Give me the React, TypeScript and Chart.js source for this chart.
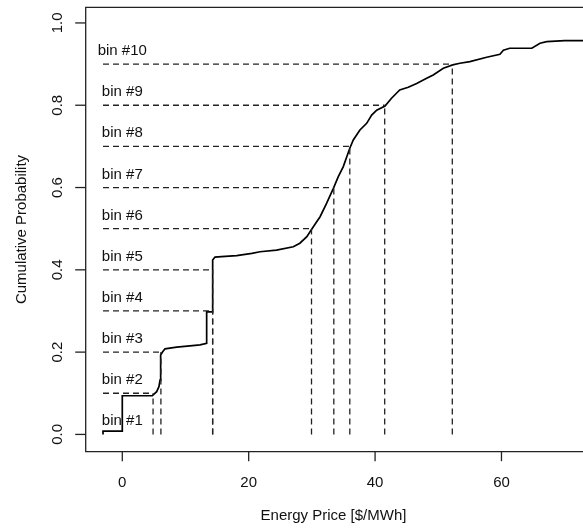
import React, { useEffect, useRef } from "react";
import { Chart, registerables } from "chart.js";

Chart.register(...registerables);

// ECDF of energy price (digitized vertices)
const ecdfX = [
  -3.05, -3.05, 0, 0, 4.75, 5.44, 5.8, 5.97, 6.02, 6.12, 6.39, 6.76, 8.6, 10.7, 12.3, 13.35,
  13.35, 14.3, 14.3, 14.67, 15.7, 18.1, 20.5, 21.8, 24.4, 27.06, 28.1, 29.2, 29.97, 30.76,
  31.3, 32.34, 33.4, 34.18, 34.97, 36.0, 36.55, 37.6, 38.67, 39.46, 40.25, 41.57, 42.6, 43.9,
  45.25, 46.58, 48.16, 49.2, 50.8, 52.28, 53.43, 55.0, 57.66, 59.76, 60.3, 61.3, 64.8, 66.1,
  67.15, 70.0, 75.0,
];
const ecdfY = [
  0, 0.008, 0.008, 0.094, 0.094, 0.104, 0.116, 0.132, 0.165, 0.193, 0.201, 0.208, 0.212, 0.215,
  0.2175, 0.2216, 0.298, 0.298, 0.424, 0.431, 0.432, 0.4345, 0.44, 0.444, 0.448, 0.456, 0.4647,
  0.4807, 0.4987, 0.517, 0.529, 0.562, 0.598, 0.6265, 0.651, 0.6955, 0.7157, 0.74, 0.756, 0.776,
  0.788, 0.798, 0.817, 0.837, 0.8437, 0.853, 0.8656, 0.8737, 0.89, 0.898, 0.902, 0.906, 0.9166,
  0.924, 0.9335, 0.9385, 0.9385, 0.9506, 0.9546, 0.957, 0.957,
];

const binProbs = [0.1, 0.2, 0.3, 0.4, 0.5, 0.6, 0.7, 0.8, 0.9];
const binQuantiles = [4.87, 6.11, 14.29, 14.31, 29.94, 33.47, 36.0, 41.52, 52.22];
const binLabelLevels = [0, 0.1, 0.2, 0.3, 0.4, 0.5, 0.6, 0.7, 0.8, 0.9];
const binLabels = ["bin #1", "bin #2", "bin #3", "bin #4", "bin #5", "bin #6", "bin #7", "bin #8", "bin #9", "bin #10"];
const dataMin = -3.05;

const xTicks = [0, 20, 40, 60];
const xTickLabels = ["0", "20", "40", "60"];
const yTicks = [0, 0.2, 0.4, 0.6, 0.8, 1.0];
const yTickLabels = ["0.0", "0.2", "0.4", "0.6", "0.8", "1.0"];

const xTitle = "Energy Price [$/MWh]";
const yTitle = "Cumulative Probability";

const FONT = "15px 'Liberation Sans', Arial, sans-serif";
const LINE = "#222";

const decorPlugin = {
  id: "rDecor",
  afterDraw(chart: any) {
    const { ctx, chartArea, scales } = chart;
    const x = scales.x;
    const y = scales.y;
    const { left, top, right, bottom } = chartArea;
    ctx.save();
    ctx.strokeStyle = LINE;
    ctx.lineWidth = 1.3;
    ctx.setLineDash([]);
    // box (left, top, bottom)
    ctx.beginPath();
    ctx.moveTo(right + 5, top);
    ctx.lineTo(left, top);
    ctx.lineTo(left, bottom);
    ctx.lineTo(right + 5, bottom);
    ctx.stroke();

    ctx.fillStyle = "#111";
    ctx.font = FONT;
    // x ticks
    ctx.textAlign = "center";
    ctx.textBaseline = "middle";
    xTicks.forEach((v, i) => {
      const px = x.getPixelForValue(v);
      ctx.beginPath();
      ctx.moveTo(px, bottom);
      ctx.lineTo(px, bottom + 9.5);
      ctx.stroke();
      ctx.fillText(xTickLabels[i], px, bottom + 31);
    });
    // y ticks
    yTicks.forEach((v, i) => {
      const py = y.getPixelForValue(v);
      ctx.beginPath();
      ctx.moveTo(left - 10.5, py);
      ctx.lineTo(left, py);
      ctx.stroke();
      ctx.save();
      ctx.translate(left - 27.5, py);
      ctx.rotate(-Math.PI / 2);
      ctx.fillText(yTickLabels[i], 0, 0);
      ctx.restore();
    });
    // titles
    ctx.fillText(xTitle, 333.5, bottom + 64);
    ctx.save();
    ctx.translate(21.5, (top + bottom) / 2);
    ctx.rotate(-Math.PI / 2);
    ctx.fillText(yTitle, 0, 0);
    ctx.restore();
    // bin labels
    binLabels.forEach((lab, i) => {
      const px = x.getPixelForValue(0);
      const py = y.getPixelForValue(binLabelLevels[i] + 0.032);
      ctx.fillText(lab, px, py);
    });
    ctx.restore();
  },
};

export default function App() {
  const ref = useRef<HTMLCanvasElement | null>(null);
  useEffect(() => {
    if (!ref.current) return;
    const dashStyle = {
      borderColor: "#222",
      borderWidth: 1.3,
      borderDash: [6, 4],
      pointRadius: 0,
      showLine: true,
      fill: false,
    };
    const datasets: any[] = [];
    binProbs.forEach((p, i) => {
      datasets.push({
        ...dashStyle,
        data: [
          { x: dataMin, y: p },
          { x: binQuantiles[i], y: p },
        ],
      });
      datasets.push({
        ...dashStyle,
        data: [
          { x: binQuantiles[i], y: 0 },
          { x: binQuantiles[i], y: p },
        ],
      });
    });
    datasets.push({
      data: ecdfX.map((v, i) => ({ x: v, y: ecdfY[i] })),
      borderColor: "#000",
      borderWidth: 1.7,
      pointRadius: 0,
      showLine: true,
      fill: false,
      tension: 0,
    });
    const chart = new Chart(ref.current, {
      type: "scatter",
      data: { datasets },
      options: {
        animation: false,
        responsive: false,
        devicePixelRatio: 1,
        layout: { padding: { left: 85.7, top: 7.3, right: 0, bottom: 77.3 } },
        plugins: { legend: { display: false }, tooltip: { enabled: false } },
        scales: {
          x: { type: "linear", min: -5.79, max: 72.9, display: false },
          y: { type: "linear", min: -0.042, max: 1.038, display: false },
        },
      },
      plugins: [decorPlugin],
    });
    return () => chart.destroy();
  }, []);
  return (
    <div style={{ position: "absolute", left: 0, top: 0, width: 583, height: 529, background: "#fff" }}>
      <canvas ref={ref} width={583} height={529} style={{ display: "block" }} />
    </div>
  );
}
